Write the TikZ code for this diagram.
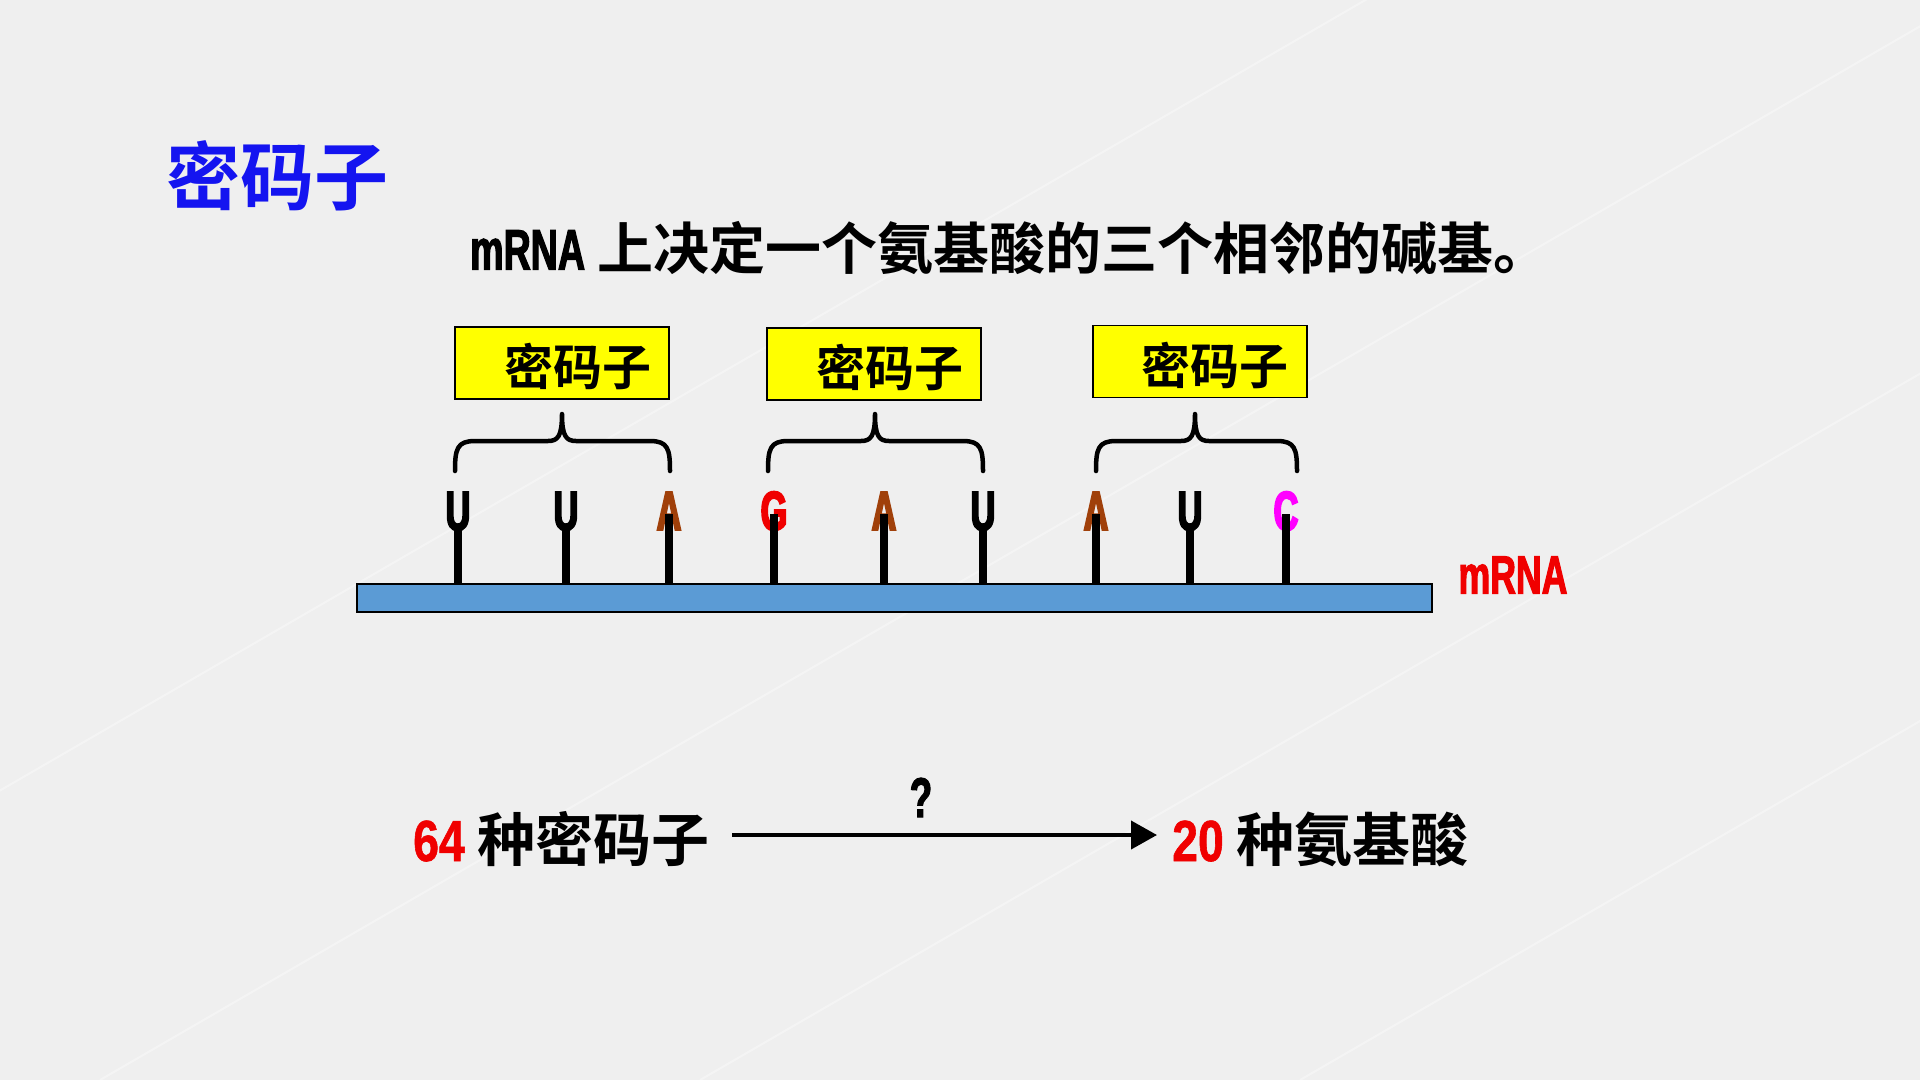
\documentclass[tikz,border=0pt]{standalone}
\usepackage{fontspec}
\setmainfont{Noto Sans CJK SC}[BoldFont={Noto Sans CJK SC Bold}]
\newfontfamily\narrow{Liberation Sans Bold}[FakeStretch=0.66, FakeBold=2]
\newfontfamily\narrowb{Liberation Sans Bold}[FakeStretch=0.62, FakeBold=3.5]
\newfontfamily\narrowd{Liberation Sans Bold}[FakeStretch=0.8, FakeBold=1]
\usetikzlibrary{arrows.meta}
\definecolor{bg}{RGB}{239,239,239}
\definecolor{ttlblue}{RGB}{20,20,240}
\definecolor{boxyellow}{RGB}{255,255,0}
\definecolor{barblue}{RGB}{91,155,213}
\definecolor{abrown}{RGB}{160,64,10}
\definecolor{gred}{RGB}{240,0,0}
\definecolor{cmag}{RGB}{255,0,255}
\tikzset{
  cjk/.style={font=\bfseries\fontsize{#1}{#1}\selectfont, inner sep=0pt},
  lat/.style={font=\narrow\fontsize{#1}{#1}\selectfont, inner sep=0pt},
  base/.style={font=\narrowb\fontsize{55}{55}\selectfont, inner sep=0pt, anchor=base},
  codonbox/.style={draw=black, line width=1.5pt, fill=boxyellow, minimum width=214pt, minimum height=72pt, inner sep=0pt},
  bracestyle/.style={line width=4.5pt, line cap=round, line join=round},
  stick/.style={line width=7.5pt},
  arr/.style={line width=4pt, -{Triangle[length=26pt,width=28pt]}},
  bgline/.style={white, line width=2pt, opacity=0.35}
}
\begin{document}
\begin{tikzpicture}[x=1pt,y=-1pt]
\fill[bg] (0,0) rectangle (1920,1080);
\useasboundingbox (0,0) rectangle (1920,1080);
% faint background streaks
\foreach \a in {-500,100,700,1300}{
  \draw[bgline] (\a,1080) -- ++(1900,-1100);
}
% title
\node[cjk=74, text=ttlblue, anchor=west] (title) at (166,176) {密码子};
\node[cjk=56, anchor=center] (sub) at (1010,248) {{\narrow\fontsize{57}{57}\selectfont mRNA} 上决定一个氨基酸的三个相邻的碱基。};
% yellow boxes
\node[codonbox] (b1) at (562,363) {};
\node[codonbox] (b2) at (874,364) {};
\node[codonbox] (b3) at (1200,361.5) {};
\node[cjk=49] (t1) at (578,367) {密码子};
\node[cjk=49] (t2) at (890,368) {密码子};
\node[cjk=49] (t3) at (1215,366) {密码子};
% braces
\foreach \xa/\xc/\xb in {455/562/670, 768/875/983, 1096/1195/1297}{
  \draw[bracestyle] (\xa,471) .. controls (\xa,449) and (\xa+2,441) .. (\xa+20,441)
     -- (\xc-14,441) .. controls (\xc-4,441) and (\xc,436) .. (\xc,414)
     .. controls (\xc,436) and (\xc+4,441) .. (\xc+14,441)
     -- (\xb-20,441) .. controls (\xb-2,441) and (\xb,449) .. (\xb,471);
}
% mRNA bar
\node[draw=black, line width=1.5pt, fill=barblue, minimum width=1075pt, minimum height=28pt, inner sep=0pt, anchor=north west] (bar) at (356,583) {};
\node[lat=54, text=gred] (mrna) at (1513,575) {mRNA};
% bases
\foreach \n/\x/\c/\l/\t in {1/458/black/U/528, 2/566/black/U/528, 3/669/abrown/A/514, 4/774/gred/G/514, 5/884/abrown/A/514, 6/983/black/U/528, 7/1096/abrown/A/514, 8/1190/black/U/525, 9/1286/cmag/C/514}{
  \node[base, text=\c] (L\n) at (\x,530) {\l};
  \draw[stick] (\x,\t) -- (\x,584);
}
% bottom
\node[cjk=58, anchor=base west] (n64) at (413,861) {{\color{gred}\narrowd\fontsize{58}{58}\selectfont 64} 种密码子};
\node[cjk=58, anchor=base west] (n20) at (1172,861) {{\color{gred}\narrowd\fontsize{58}{58}\selectfont 20} 种氨基酸};
\coordinate (qa) at (732,835);
\coordinate (qb) at (1157,835);
\draw[arr] (qa) -- (qb);
\node[lat=56, anchor=base] (q) at (921,817) {?};
\end{tikzpicture}
\end{document}
